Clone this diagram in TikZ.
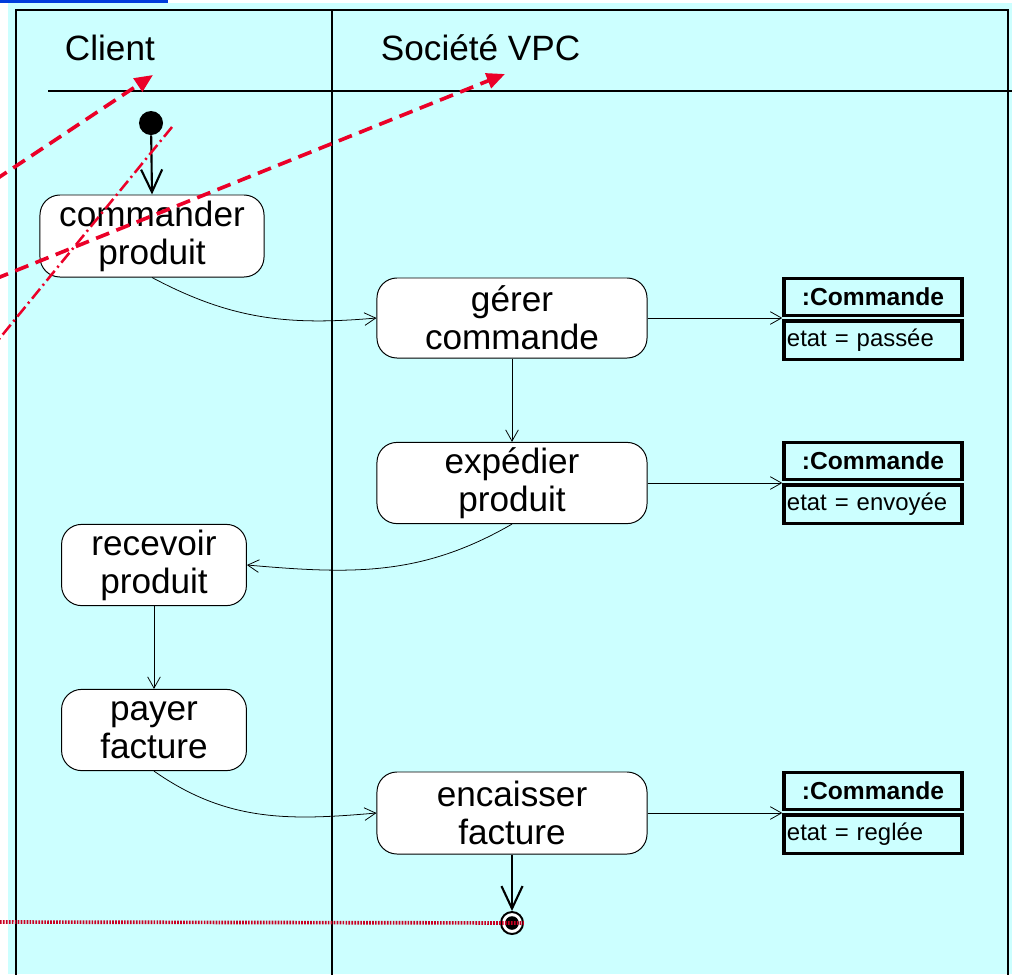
\documentclass[tikz,border=0pt]{standalone}
\usepackage{fontspec}
\setmainfont{Liberation Sans}
\usepackage{tikz}
\usetikzlibrary{arrows.meta,positioning}
\definecolor{lanecyan}{RGB}{204,255,255}
\definecolor{notered}{RGB}{235,0,40}
\definecolor{linkblue}{RGB}{0,60,220}

\begin{document}
\begin{tikzpicture}[x=0.025cm,y=-0.025cm,>=Stealth,
  activity/.style={draw,line width=0.7pt,fill=white,rounded corners=0.5cm,align=center,
    inner sep=0pt,font=\fontsize{25}{27}\selectfont},
  objhead/.style={draw,line width=2.4pt,minimum width=4.45cm,minimum height=0.93cm,inner sep=0pt,
    font=\bfseries\fontsize{17.5}{19}\selectfont},
  objbody/.style={draw,line width=2.4pt,text width=4.3cm,inner xsep=0.075cm,inner ysep=0pt,
    minimum height=0.96cm,align=left,font=\fontsize{17}{19}\selectfont},
  flow/.style={-{Straight Barb[length=8pt,width=9pt]},line width=0.55pt},
  bigflow/.style={-{Straight Barb[length=16pt,width=15pt]},line width=1.5pt},
  note/.style={notered,line width=2.6pt,dash pattern=on 10pt off 5.5pt,-{Triangle[length=13pt,width=11pt]}}]
  \clip (0,0) rectangle (1012,974);
  \fill[white] (0,0) rectangle (1012,974);
  \fill[lanecyan] (8,3) rectangle (1012,974);
  \fill[linkblue] (0,0) rectangle (168,3);
  \draw[line width=1.8pt] (16,10) rectangle (1008,990);
  \draw[line width=1.8pt] (332,10) -- (332,990);
  \draw[line width=1.8pt] (48,91) -- (1012,91);
  \node[anchor=west,font=\fontsize{25}{26}\selectfont] (client) at (60,48) {Client};
  \node[anchor=west,font=\fontsize{25}{26}\selectfont] (societe) at (376,48) {Société VPC};

  \node[circle,fill,inner sep=0pt,minimum size=0.6cm] (debut) at (151,123) {};
  \node[activity,minimum width=5.6cm,minimum height=2.05cm] (commander) at (152,236) {commander\\produit};
  \node[activity,minimum width=6.75cm,minimum height=2cm] (gerer) at (512,318) {gérer\\commande};
  \node[activity,minimum width=6.75cm,minimum height=2.03cm] (expedier) at (512,483) {expédier\\produit};
  \node[activity,minimum width=4.62cm,minimum height=2.03cm] (recevoir) at (154,565) {recevoir\\produit};
  \node[activity,minimum width=4.62cm,minimum height=2.03cm] (payer) at (154,730) {payer\\facture};
  \node[activity,minimum width=6.75cm,minimum height=2.05cm] (encaisser) at (512,813) {encaisser\\facture};
  \node[circle,draw,fill=white,line width=1.4pt,inner sep=0pt,minimum size=0.55cm,
    path picture={\fill[black] (path picture bounding box.center) circle (0.17cm);}] (fin) at (512,923) {};

  \node[objhead] (cmd1) at (873,297) {:Commande};
  \node[objbody,below=1.5pt of cmd1] (etat1) {etat = passée};
  \node[objhead] (cmd2) at (873,461) {:Commande};
  \node[objbody,below=1.5pt of cmd2] (etat2) {etat = envoyée};
  \node[objhead] (cmd3) at (873,791) {:Commande};
  \node[objbody,below=1.5pt of cmd3] (etat3) {etat = reglée};

  \draw[bigflow] (debut) -- (commander.north);
  \draw[flow] (commander.south) to[out=-28,in=185] (gerer.west);
  \draw[flow] (gerer.east) -- (gerer.east -| cmd1.west);
  \draw[flow] (gerer) -- (expedier);
  \draw[flow] (expedier.east) -- (expedier.east -| cmd2.west);
  \draw[flow] (expedier.south) to[out=-150,in=-5] (recevoir.east);
  \draw[flow] (recevoir) -- (payer);
  \draw[flow] (payer.south) to[out=-35,in=185] (encaisser.west);
  \draw[flow] (encaisser.east) -- (encaisser.east -| cmd3.west);
  \draw[bigflow] (encaisser) -- (fin);

  \coordinate (n1) at (-5,180);
  \coordinate (p1) at (153,75);
  \coordinate (n2) at (-5,279);
  \coordinate (p2) at (505,74);
  \coordinate (n3) at (172,127);
  \coordinate (p3) at (-5,344);
  \coordinate (n4) at (0,922);
  \draw[note] (n1) -- (p1);
  \draw[note] (n2) -- (p2);
  \draw[notered,line width=1.8pt,dash pattern=on 9pt off 3pt on 1.5pt off 3pt] (n3) -- (p3);
  \draw[notered!85!black,line width=2.6pt,dash pattern=on 1.2pt off 0.9pt] (n4) -- (fin.east);
\end{tikzpicture}
\end{document}
